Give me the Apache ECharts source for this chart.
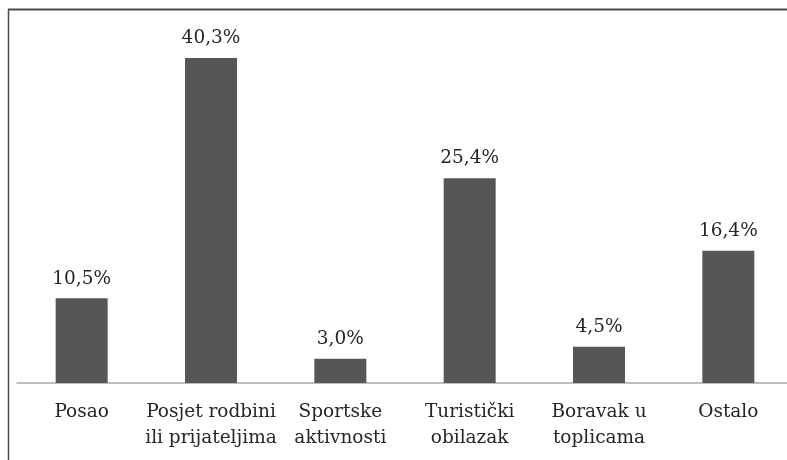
<!DOCTYPE html>
<html><head><meta charset="utf-8">
<script src="https://cdn.jsdelivr.net/npm/echarts@6/dist/echarts.min.js"></script>
<style>html,body{margin:0;padding:0;background:#fff}#c{width:787px;height:460px}</style>
</head><body><div id="c"></div>
<script>
var categories = ['Posao', 'Posjet rodbini\nili prijateljima', 'Sportske\naktivnosti', 'Turistički\nobilazak', 'Boravak u\ntoplicama', 'Ostalo'];
var values = [10.5, 40.3, 3.0, 25.4, 4.5, 16.4];

var serif = 'DejaVu Serif';
var chart = echarts.init(document.getElementById('c'));
chart.setOption({
  backgroundColor: '#fff',
  animation: false,
  textStyle: { fontFamily: serif },
  graphic: [
    { type: 'line', shape: { x1: 8, y1: 9.5, x2: 787, y2: 9.5 }, style: { stroke: '#4a4a4a', lineWidth: 2 } },
    { type: 'line', shape: { x1: 8.5, y1: 9, x2: 8.5, y2: 460 }, style: { stroke: '#4a4a4a', lineWidth: 1.5 } }
  ],
  grid: { left: 17, top: 12, width: 776, height: 371, outerBoundsMode: 'none', containLabel: false },
  xAxis: {
    type: 'category',
    data: categories,
    axisLine: { lineStyle: { color: '#a8a8a8', width: 1.5 } },
    axisTick: { show: false },
    axisLabel: {
      interval: 0, margin: 16, color: '#262626',
      fontFamily: serif, fontSize: 18.5, lineHeight: 26
    }
  },
  yAxis: { type: 'value', min: 0, max: 46, show: false, splitLine: { show: false } },
  series: [{
    type: 'bar',
    data: values,
    barWidth: 52,
    itemStyle: { color: '#565656' },
    label: {
      show: true, position: 'top', distance: 10, color: '#262626',
      fontFamily: serif, fontSize: 18.5,
      formatter: function (p) { return p.value.toFixed(1).replace('.', ',') + '%'; }
    }
  }]
});
</script></body></html>
